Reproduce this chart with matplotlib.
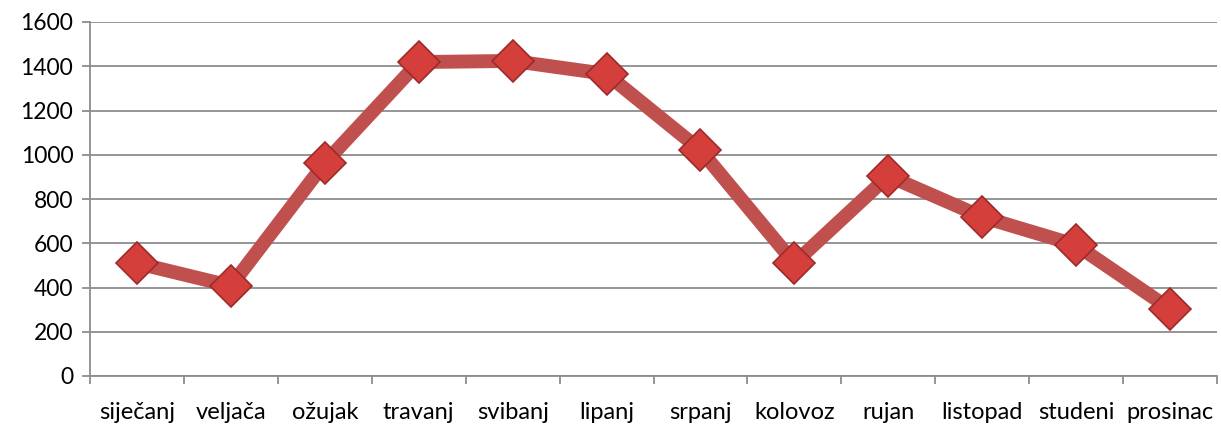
import matplotlib.pyplot as plt
import numpy as np

# months and values
months = ['siječanj', 'veljača', 'ožujak', 'travanj', 'svibanj', 'lipanj',
          'srpanj', 'kolovoz', 'rujan', 'listopad', 'studeni', 'prosinac']
values = [510, 407, 963, 1419, 1424, 1365, 1021, 510, 904, 719, 592, 303]
yticks = [0, 200, 400, 600, 800, 1000, 1200, 1400, 1600]

plt.rcParams['font.family'] = ['Lato', 'DejaVu Sans']

fig = plt.figure(figsize=(12.21, 4.24), dpi=100)
ax = fig.add_axes([90/1221, 1-376/424, (1217-90)/1221, (376-22)/424])

x = np.arange(len(months))
ax.plot(x, values, color='#C0504D', lw=10, solid_capstyle='butt', zorder=3)
ax.plot(x, values, ls='none', marker='D', ms=21, mfc='#D43F3C', mec='#9C2B29',
        mew=1.2, zorder=4)

ax.set_xlim(-0.5, 11.5)
ax.set_ylim(0, 1600)
ax.set_yticks(yticks)
ax.set_yticklabels([str(v) for v in yticks], fontsize=16.5)
ax.yaxis.grid(True, color='#8c8c8c', lw=1.3)
ax.set_axisbelow(True)

ax.set_xticks(x)
ax.set_xticklabels(months, fontsize=17)
ax.set_xticks(np.arange(-0.5, 12, 1), minor=True)
ax.tick_params(axis='x', which='major', length=0, pad=19)
ax.tick_params(axis='x', which='minor', length=6, color='#8c8c8c', width=1.3)
ax.tick_params(axis='y', length=6, color='#8c8c8c', width=1.3, pad=6)

for s in ['top', 'right']:
    ax.spines[s].set_visible(False)
for s in ['left', 'bottom']:
    ax.spines[s].set_color('#8c8c8c')
    ax.spines[s].set_linewidth(1.3)

fig.savefig('out.png', dpi=100)
